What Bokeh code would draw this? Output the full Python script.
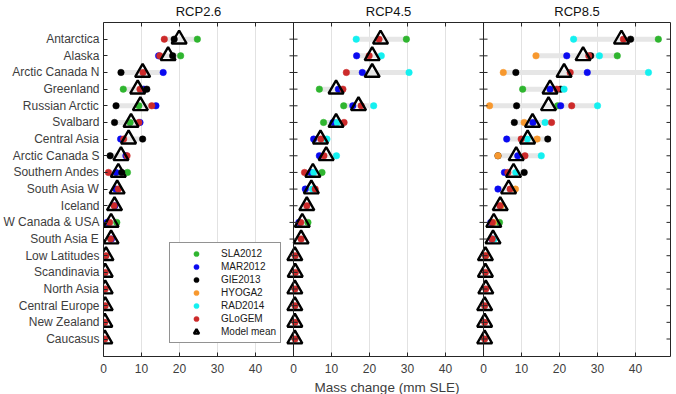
import numpy as np
from bokeh.plotting import figure
from bokeh.models import (Range1d, LinearAxis, FixedTicker, Grid, Legend,
                          LegendItem, ColumnDataSource, Span)
from bokeh.embed import file_html
from bokeh.resources import INLINE

nan = np.nan

regions = ["Antarctica", "Alaska", "Arctic Canada N", "Greenland", "Russian Arctic",
           "Svalbard", "Central Asia", "Arctic Canada S", "Southern Andes",
           "South Asia W", "Iceland", "W Canada & USA", "South Asia E",
           "Low Latitudes", "Scandinavia", "North Asia", "Central Europe",
           "New Zealand", "Caucasus"]

scenarios = ["RCP2.6", "RCP4.5", "RCP8.5"]
models = ["SLA2012", "MAR2012", "GIE2013", "HYOGA2", "RAD2014", "GLoGEM"]
model_colors = ["#2fb52f", "#0a0af0", "#000000", "#f7982e", "#14f0f0", "#cc2a2a"]
x_ticks = [0, 10, 20, 30, 40]

# mass change (mm SLE) per region, one list per model and scenario
sla_26 = [24.7, 20.3, nan, 5.2, 9.3, 7.0, nan, nan, 6.3, nan, nan, 3.5, nan, nan, nan, nan, nan, nan, nan]
mar_26 = [nan, 14.5, 15.7, 10.6, 13.8, 9.6, 4.5, 5.9, 3.3, 3.2, 3.0, 0.9, 2.1, nan, nan, nan, nan, nan, nan]
gie_26 = [18.6, 18.2, 4.6, 11.4, 3.3, 2.9, 10.3, 1.75, 4.8, nan, nan, nan, nan, nan, nan, nan, nan, nan, nan]
hyo_26 = [nan] * 19
rad_26 = [nan] * 19
glo_26 = [16.0, 14.8, 10.4, 9.6, 12.7, 9.3, 5.3, 6.2, 1.3, 3.9, 2.8, 1.6, 1.9, 0.65, 0.45, 0.45, 0.45, 0.35, 0.35]
mean_26 = [19.9, 17.0, 10.3, 9.0, 9.7, 7.25, 6.6, 4.6, 3.9, 3.6, 2.9, 2.0, 2.0, 0.65, 0.45, 0.45, 0.45, 0.35, 0.35]

sla_45 = [29.7, nan, nan, 6.8, 13.2, 7.9, nan, nan, 7.5, nan, nan, 3.8, nan, nan, nan, nan, nan, nan, nan]
mar_45 = [nan, 16.6, 18.1, 11.8, 15.6, 10.4, 5.3, 6.8, 4.5, 3.1, nan, 1.4, nan, nan, nan, nan, nan, nan, nan]
gie_45 = [nan] * 19
hyo_45 = [nan] * 19
rad_45 = [16.5, 23.1, 30.4, nan, 21.1, 11.5, 8.8, 11.3, 5.3, 5.0, nan, nan, nan, nan, nan, nan, nan, nan, nan]
glo_45 = [22.5, 19.9, 13.9, 13.0, 17.8, 13.3, 7.2, 8.0, 2.9, 5.7, 3.5, 1.9, 2.0, 0.45, 0.5, 0.4, 0.4, 0.4, 0.4]
mean_45 = [22.9, 20.7, 20.7, 11.2, 17.1, 11.2, 7.1, 8.6, 5.1, 4.7, 3.5, 2.3, 2.0, 0.35, 0.45, 0.35, 0.35, 0.35, 0.35]

sla_85 = [46.0, 35.2, nan, 10.3, 19.5, nan, nan, nan, nan, nan, nan, 4.2, nan, nan, nan, nan, nan, nan, nan]
mar_85 = [nan, 21.9, 27.3, 17.5, 20.3, 13.0, 6.1, 9.0, 5.5, 3.8, nan, 1.9, 2.2, nan, nan, nan, nan, nan, nan]
gie_85 = [38.7, 28.2, 8.5, 20.3, 8.7, 8.1, 16.9, 3.8, 10.7, nan, nan, nan, nan, nan, nan, nan, nan, nan, nan]
hyo_85 = [nan, 13.8, 5.2, nan, 1.6, 10.7, 14.1, 3.8, nan, 8.4, 4.6, 2.6, nan, 0.6, nan, nan, nan, nan, nan]
rad_85 = [23.7, 30.5, 43.4, 21.2, 30.0, 16.2, 11.5, 15.2, 8.5, nan, nan, nan, 2.8, nan, nan, nan, nan, nan, nan]
glo_85 = [36.8, 27.7, 22.8, 19.3, 23.2, 17.9, 9.9, 10.9, 6.4, 7.0, 4.3, 2.3, 2.3, 0.5, 0.5, 0.6, 0.3, 0.3, 0.3]
mean_85 = [36.3, 26.2, 21.2, 17.5, 17.1, 12.9, 11.6, 8.6, 7.9, 6.6, 4.4, 2.7, 2.5, 0.5, 0.5, 0.6, 0.3, 0.3, 0.3]

scenario_models = [
    [sla_26, mar_26, gie_26, hyo_26, rad_26, glo_26],
    [sla_45, mar_45, gie_45, hyo_45, rad_45, glo_45],
    [sla_85, mar_85, gie_85, hyo_85, rad_85, glo_85],
]
scenario_means = [mean_26, mean_45, mean_85]

FONT = "Liberation Sans"
INK = "#262626"
LABEL = "#3d3d3d"
Y_TOP = 20.0

# the three scenario panels sit side by side on one shared x scale
panel_width = [50.0, 50.0, 49.2]
panel_start = np.concatenate([[0.0], np.cumsum(panel_width)[:-1]])
panel_center = panel_start + np.array(panel_width) / 2
x_end = float(np.sum(panel_width))
ypos = np.arange(len(regions), 0, -1).astype(float)

p = figure(frame_width=567, frame_height=334,
           x_range=Range1d(0, x_end), y_range=Range1d(-0.05, Y_TOP),
           x_axis_location=None, y_axis_location=None,
           output_backend="svg", toolbar_location=None,
           min_border_left=100, min_border_right=7,
           min_border_top=0, min_border_bottom=40,
           outline_line_color=None,
           background_fill_color="white", border_fill_color="white")
p.grid.visible = False


def style_axis(ax, tick_in=4):
    ax.major_tick_in = tick_in
    ax.major_tick_out = 0
    ax.minor_tick_in = 0
    ax.minor_tick_out = 0
    ax.axis_line_color = INK
    ax.major_tick_line_color = INK
    ax.major_label_text_font = FONT
    ax.major_label_text_color = LABEL
    ax.major_label_text_font_size = "12px"


all_ticks = [float(s + t) for s in panel_start for t in x_ticks]
tick_text = {float(s + t): str(t) for s in panel_start for t in x_ticks}

left = LinearAxis(ticker=FixedTicker(ticks=list(ypos)))
left.major_label_overrides = {float(y): name for y, name in zip(ypos, regions)}
style_axis(left)
left.major_label_standoff = 4
p.add_layout(left, "left")

bottom = LinearAxis(ticker=FixedTicker(ticks=all_ticks))
bottom.major_label_overrides = tick_text
style_axis(bottom)
bottom.major_label_standoff = 7
bottom.axis_label = "Mass change (mm SLE)"
bottom.axis_label_text_font = FONT
bottom.axis_label_text_font_size = "13.5px"
bottom.axis_label_text_font_style = "normal"
bottom.axis_label_text_color = LABEL
bottom.axis_label_standoff = 4
p.add_layout(bottom, "below")

# top edge carries the scenario names, one above each panel
top = LinearAxis(ticker=FixedTicker(ticks=list(panel_center)))
top.major_label_overrides = {float(c): name for c, name in zip(panel_center, scenarios)}
style_axis(top, tick_in=0)
top.major_label_text_font_size = "13px"
top.major_label_text_color = "#111111"
top.major_label_standoff = 4
p.add_layout(top, "above")

# right edge: plain line
right = LinearAxis(ticker=FixedTicker(ticks=[]))
style_axis(right)
p.add_layout(right, "right")

grid_ticks = [float(s + t) for s in panel_start for t in x_ticks[1:]]
p.add_layout(Grid(dimension=0, ticker=FixedTicker(ticks=grid_ticks),
                  grid_line_color="#e2e2e2", grid_line_width=1))

# panel dividers
for s in panel_start[1:]:
    p.add_layout(Span(location=float(s), dimension="height", line_color=INK, line_width=1))


def edge_ticks(x, y, vertical=False):
    # short inward ticks along frame edges and panel dividers
    p.scatter(x=x, y=y, marker="dash", size=8, angle=(np.pi / 2 if vertical else 0.0),
              line_color=INK, line_width=1)


legend_renderers = []
for k in range(3):
    s = panel_start[k]
    vals = np.array(scenario_models[k], dtype=float)
    lo = np.nanmin(vals, axis=0)
    hi = np.nanmax(vals, axis=0)
    p.hbar(y=ypos, left=lo + s, right=hi + s, height=0.3,
           fill_color="#e6e6e6", line_color=None)

    for name, color, v in zip(models, model_colors, scenario_models[k]):
        src = ColumnDataSource(dict(x=np.array(v, dtype=float) + s, y=ypos))
        r = p.scatter("x", "y", source=src, size=6.5, marker="circle",
                      fill_color=color, line_color=color, line_width=0.5)
        if k == 0:
            legend_renderers.append((name, r))

    msrc = ColumnDataSource(dict(x=np.array(scenario_means[k], dtype=float) + s, y=ypos))
    rm = p.scatter("x", "y", source=msrc, marker="triangle", size=15,
                   fill_color=None, line_color="black", line_width=2.4)
    if k == 0:
        legend_renderers.append(("Model mean", rm))

for s in panel_start[1:]:
    edge_ticks(np.full_like(ypos, s), ypos)
edge_ticks(np.full_like(ypos, x_end), ypos)
edge_ticks(np.array(all_ticks), np.full(len(all_ticks), Y_TOP), vertical=True)

items = [LegendItem(label=n, renderers=[r]) for n, r in legend_renderers]
legend = Legend(items=items, location=(66, 13),
                border_line_color=INK, border_line_width=1,
                background_fill_color="white", background_fill_alpha=1,
                label_text_font=FONT, label_text_font_size="10px",
                label_text_color="#1a1a1a",
                glyph_height=13, glyph_width=44, label_height=13,
                label_standoff=3, spacing=0, padding=4, margin=0)
p.add_layout(legend)

open("out.html", "w").write(file_html(p, INLINE))
